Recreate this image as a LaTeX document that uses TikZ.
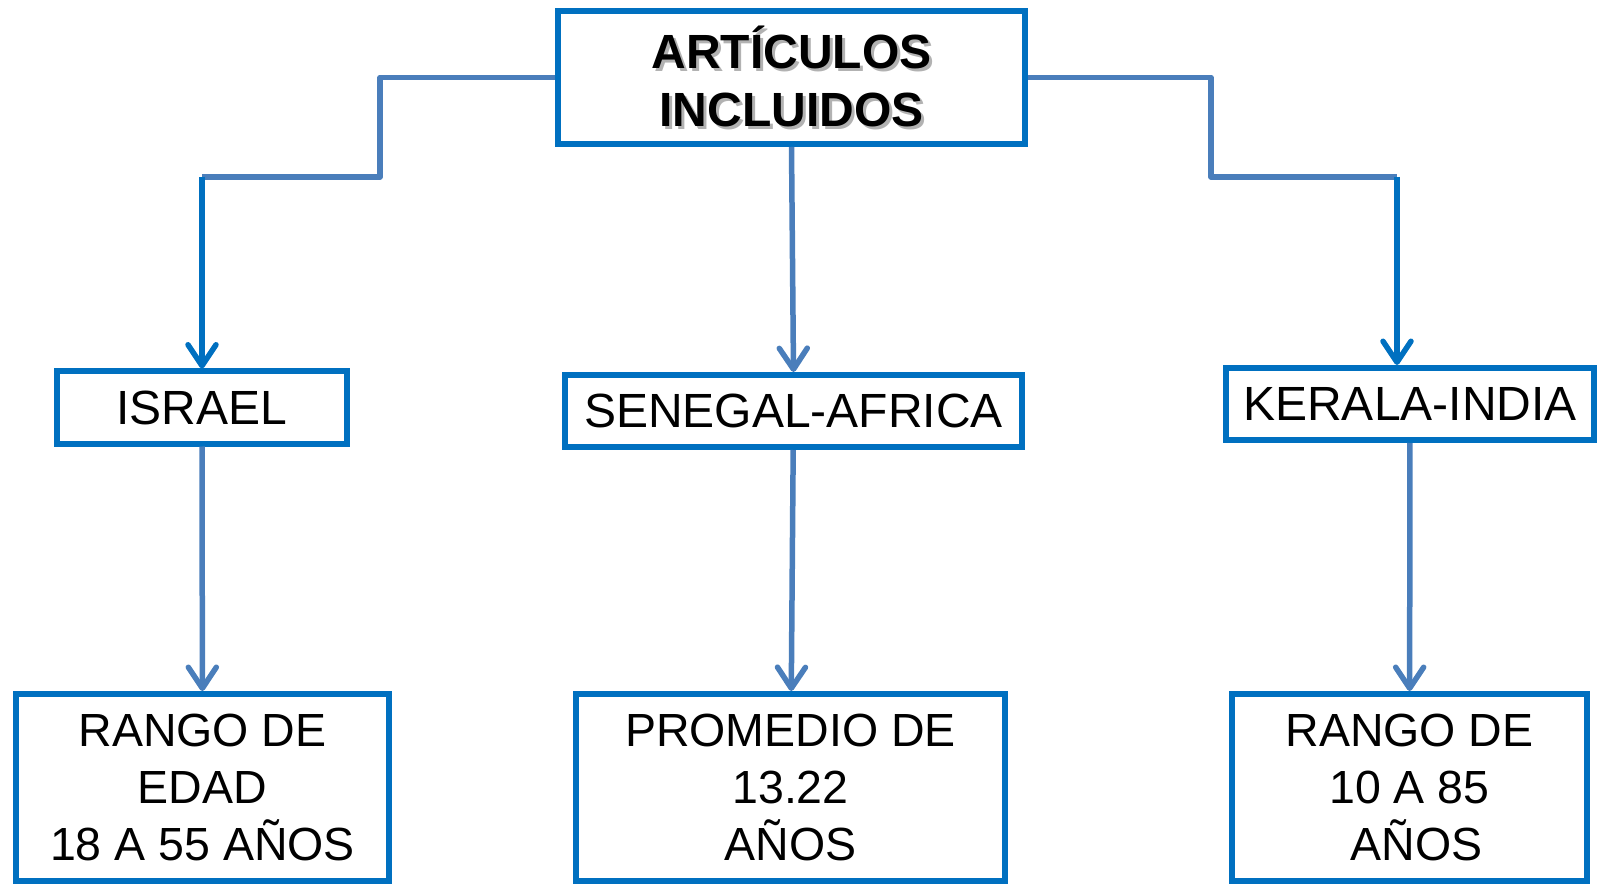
\documentclass[tikz,border=0pt]{standalone}
\usepackage{fontspec}
\setmainfont{Liberation Sans}
\usepackage{tikz}
\usetikzlibrary{positioning, arrows.meta}
\definecolor{azul}{RGB}{0,112,192}
\definecolor{acero}{RGB}{74,126,187}
\newcommand{\sombra}[1]{\leavevmode\rlap{\hspace{3pt}\raisebox{-3pt}{\textcolor{black!30}{#1}}}#1}
\tikzset{caja/.style={rectangle,draw=azul,line width=6pt,fill=white,align=center,inner sep=0pt},
	raiz/.style={minimum width=467pt, minimum height=133pt, font=\fontsize{48}{58}\selectfont\bfseries},
	pais/.style={minimum height=72pt, font=\fontsize{48}{57}\selectfont},
	dato/.style={minimum height=187pt, font=\fontsize{46.5}{57}\selectfont},
	linea/.style={draw=acero,line width=5.5pt,line join=round},
	punta/.style={-{Straight Barb[length=21pt,width=28pt,round]}} }

\begin{document}
\begin{tikzpicture}[x=1pt,y=-1pt]
  \useasboundingbox (0,0) rectangle (1599,885);

  \node (titulo) [caja, raiz] at (791.5,77.5) {\sombra{ARTÍCULOS}\\\sombra{INCLUIDOS}};

  \node (israel) [caja, pais, minimum width=290pt] at (202,407.5) {ISRAEL};
  \node (senegal) [caja, pais, minimum width=457pt] at (793.5,411) {SENEGAL-AFRICA};
  \node (kerala) [caja, pais, minimum width=368pt] at (1410,404) {KERALA-INDIA};

  \node (edad1) [caja, dato, minimum width=373pt] at (202.5,787.5) {RANGO DE\\EDAD\\18 A 55 AÑOS};
  \node (promedio) [caja, dato, minimum width=429pt] at (790.5,787.5) {PROMEDIO DE\\13.22\\AÑOS};
  \node (edad2) [caja, dato, minimum width=355pt] at (1409.5,787.5) {RANGO DE\\10 A 85\\\hspace*{.3em}AÑOS};

  % codos de las lineas
  \coordinate (codoI) at (380,177);
  \coordinate (codoD) at (1211,177);
  \coordinate (bajaD) at (1397,177);

  \draw [linea] (titulo.west) -| (codoI) -- (codoI -| israel.north);
  \draw [linea, punta, draw=azul] (codoI -| israel.north) -- (israel.north);
  \draw [linea] (titulo.east) -| (codoD) -- (bajaD);
  \draw [linea, punta, draw=azul] (bajaD) -- (bajaD |- kerala.north);
  \draw [linea, punta] (titulo.south) -- (senegal.north);

  \draw [linea, punta] (israel) -- (edad1);
  \draw [linea, punta] (senegal) -- (promedio);
  \draw [linea, punta] (kerala) -- (edad2);
\end{tikzpicture}
\end{document}
